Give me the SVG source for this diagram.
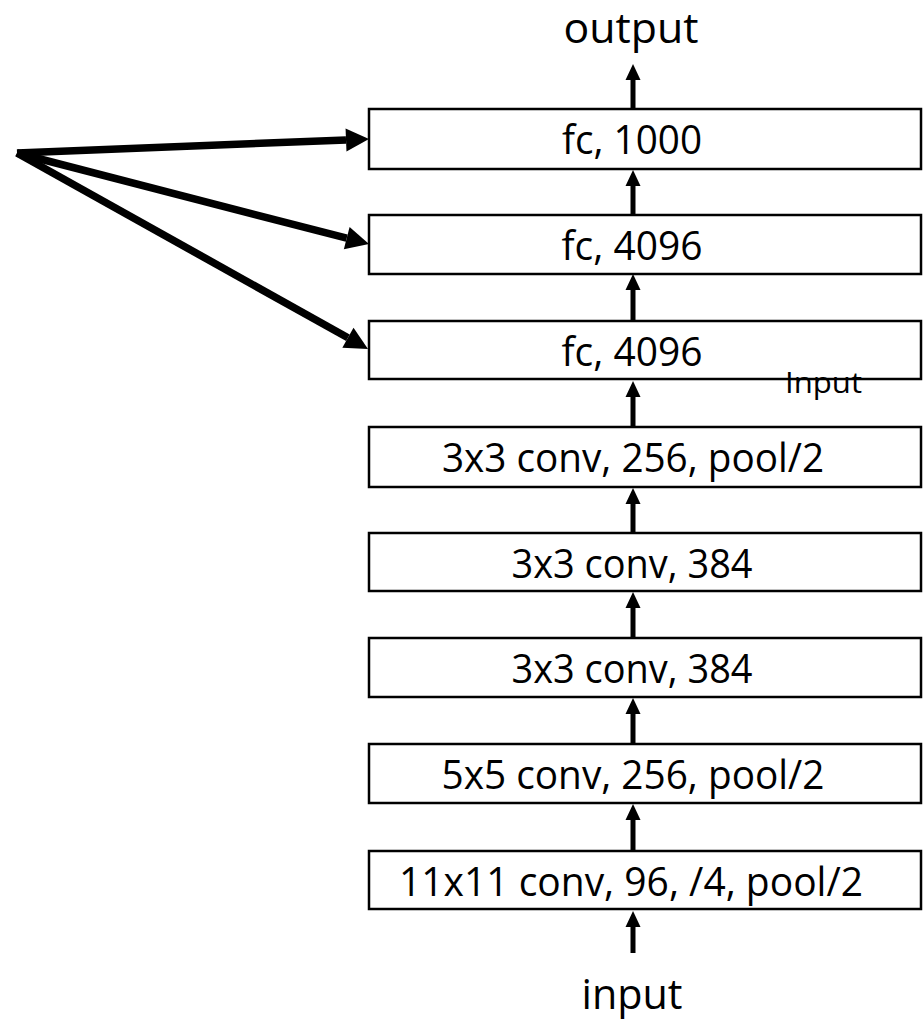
<svg xmlns="http://www.w3.org/2000/svg" width="923" height="1022" viewBox="0 0 923 1022">
<defs>
<style>
.box{fill:#fff;stroke:#000;stroke-width:2.5}
.lbl{font-family:"Open Sans","Noto Sans","DejaVu Sans",sans-serif;font-size:41px;fill:#000;text-anchor:middle}
.io{font-family:"Open Sans","Noto Sans","DejaVu Sans",sans-serif;font-size:42px;fill:#000;text-anchor:middle}
.small{font-family:"Open Sans","Noto Sans","DejaVu Sans",sans-serif;font-size:30px;fill:#000}
.v{stroke:#000;stroke-width:5;fill:none;marker-end:url(#ah)}
.f{stroke:#000;stroke-width:7.5;fill:none;marker-end:url(#fh)}
</style>
<marker id="ah" markerUnits="userSpaceOnUse" markerWidth="16" markerHeight="15" refX="0" refY="7.5" orient="auto" overflow="visible">
<path d="M0,0 L16,7.5 L0,15 z" fill="#000"/>
</marker>
<marker id="fh" markerUnits="userSpaceOnUse" markerWidth="23" markerHeight="23" refX="0" refY="11.5" orient="auto" overflow="visible">
<path d="M0,0 L23,11.5 L0,23 z" fill="#000"/>
</marker>
</defs>
<rect width="923" height="1022" fill="#fff"/>
<g id="output"><text class="io" x="631" y="43" textLength="135" lengthAdjust="spacingAndGlyphs">output</text></g>
<g id="fc1000"><rect class="box" x="369" y="109" width="552" height="60"/><text class="lbl" x="632" y="154" textLength="140" lengthAdjust="spacingAndGlyphs">fc, 1000</text></g>
<g id="fc4096a"><rect class="box" x="369" y="215" width="552" height="59"/><text class="lbl" x="632" y="260" textLength="141" lengthAdjust="spacingAndGlyphs">fc, 4096</text></g>
<g id="fc4096b"><rect class="box" x="369" y="321" width="552" height="58"/><text class="lbl" x="632" y="366" textLength="141" lengthAdjust="spacingAndGlyphs">fc, 4096</text></g>
<g id="conv5"><rect class="box" x="369" y="427" width="552" height="60"/><text class="lbl" x="633" y="472" textLength="382" lengthAdjust="spacingAndGlyphs">3x3 conv, 256, pool/2</text></g>
<g id="conv4"><rect class="box" x="369" y="533" width="552" height="58"/><text class="lbl" x="632" y="578" textLength="241" lengthAdjust="spacingAndGlyphs">3x3 conv, 384</text></g>
<g id="conv3"><rect class="box" x="369" y="638" width="552" height="59"/><text class="lbl" x="632" y="683" textLength="241" lengthAdjust="spacingAndGlyphs">3x3 conv, 384</text></g>
<g id="conv2"><rect class="box" x="369" y="744" width="552" height="59"/><text class="lbl" x="633" y="789" textLength="383" lengthAdjust="spacingAndGlyphs">5x5 conv, 256, pool/2</text></g>
<g id="conv1"><rect class="box" x="369" y="851" width="552" height="58"/><text class="lbl" x="631" y="896" textLength="464" lengthAdjust="spacingAndGlyphs">11x11 conv, 96, /4, pool/2</text></g>
<g id="input"><text class="io" x="632" y="1009" textLength="101" lengthAdjust="spacingAndGlyphs">input</text></g>
<g id="inputNote"><text class="small" x="785" y="393" textLength="77" lengthAdjust="spacingAndGlyphs">Input</text></g>
<g id="connectors">
<line class="v" x1="633" y1="108" x2="633" y2="80"/>
<line class="v" x1="633" y1="214" x2="633" y2="186"/>
<line class="v" x1="633" y1="320" x2="633" y2="290"/>
<line class="v" x1="633" y1="426" x2="633" y2="397"/>
<line class="v" x1="633" y1="532" x2="633" y2="504"/>
<line class="v" x1="633" y1="637" x2="633" y2="608"/>
<line class="v" x1="633" y1="743" x2="633" y2="714"/>
<line class="v" x1="633" y1="850" x2="633" y2="820"/>
<line class="v" x1="633" y1="953" x2="633" y2="927"/>
<line class="f" x1="17" y1="153" x2="346.02" y2="139.91"/>
<line class="f" x1="17" y1="153" x2="346.73" y2="238.24"/>
<line class="f" x1="17" y1="153" x2="347.92" y2="337.79"/>
</g>
</svg>
